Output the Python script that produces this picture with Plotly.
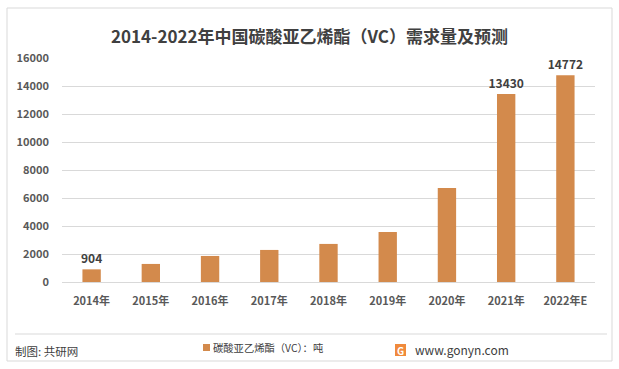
import plotly.graph_objects as go

categories = ["2014年", "2015年", "2016年", "2017年", "2018年", "2019年", "2020年", "2021年", "2022年E"]
demand = [904, 1290, 1860, 2290, 2720, 3570, 6710, 13430, 14772]
label_flags = [True, False, False, False, False, False, False, True, True]
series_name = "碳酸亚乙烯酯（VC）：吨"
y_ticks = [0, 2000, 4000, 6000, 8000, 10000, 12000, 14000, 16000]

FONT = "Noto Sans CJK SC, Microsoft YaHei, sans-serif"
BAR_COLOR = "#D38A4C"

W, H = 619, 369
ML, MR, MT, MB = 62, 24, 58, 87
PW = W - ML - MR
PH = H - MT - MB


def px(x):
    return (x - ML) / PW


def py(y):
    return (H - MB - y) / PH


fig = go.Figure()
fig.add_trace(go.Bar(
    x=categories,
    y=demand,
    name=series_name,
    marker=dict(color=BAR_COLOR, line=dict(width=0)),
    text=[str(v) if f else "" for v, f in zip(demand, label_flags)],
    textposition="outside",
    constraintext="none",
    textfont=dict(family=FONT, size=12, color="#404040", weight="bold"),
    cliponaxis=False,
    hoverinfo="x+y",
    showlegend=False,
))

fig.update_layout(
    width=W, height=H,
    margin=dict(l=ML, r=MR, t=MT, b=MB, autoexpand=False),
    paper_bgcolor="white",
    plot_bgcolor="white",
    font=dict(family=FONT, color="#595959"),
    bargap=0.69,
    title=dict(
        text="<b>2014-2022年中国碳酸亚乙烯酯（VC）需求量及预测</b>",
        x=0.5, xanchor="center", xref="container",
        y=1 - 37 / H, yanchor="middle", yref="container",
        font=dict(family=FONT, size=17, color="#404040"),
    ),
    xaxis=dict(
        showgrid=False, showline=False, ticks="",
        tickfont=dict(family=FONT, size=11, color="#595959", weight="bold"),
        ticklabelstandoff=11,
    ),
    yaxis=dict(
        range=[0, 16000], tickvals=y_ticks,
        ticktext=[str(v) for v in y_ticks],
        showgrid=True, gridcolor="#D9D9D9", gridwidth=1,
        zeroline=True, zerolinecolor="#D9D9D9", zerolinewidth=1,
        showline=False, ticks="",
        tickfont=dict(family=FONT, size=11, color="#595959", weight="bold"),
        ticklabelstandoff=12,
    ),
    showlegend=False,
)

# outer frame
fig.add_shape(type="rect", xref="paper", yref="paper",
              x0=px(7), x1=px(612), y0=py(361), y1=py(8),
              line=dict(color="#D9D9D9", width=1), layer="below")
# separator line above footer
fig.add_shape(type="line", xref="paper", yref="paper",
              x0=px(15), x1=px(607), y0=py(334), y1=py(334),
              line=dict(color="#D9D9D9", width=1))

# legend (custom)
fig.add_shape(type="rect", xref="paper", yref="paper",
              x0=px(203), x1=px(210), y0=py(351), y1=py(344),
              fillcolor=BAR_COLOR, line=dict(width=0))
fig.add_annotation(text=series_name, xref="paper", yref="paper",
                   x=px(211), y=py(347.5), xanchor="left", yanchor="middle",
                   showarrow=False,
                   font=dict(family=FONT, size=10.3, color="#404040"))

# footer left
fig.add_annotation(text="制图: 共研网", xref="paper", yref="paper",
                   x=px(13), y=py(350.5), xanchor="left", yanchor="middle",
                   showarrow=False,
                   font=dict(family=FONT, size=11.5, color="#404040"))
# logo icon
fig.add_shape(type="rect", xref="paper", yref="paper",
              x0=px(395), x1=px(406), y0=py(356), y1=py(344),
              fillcolor="#F08A3C", line=dict(width=0))
fig.add_annotation(text="<b>G</b>", xref="paper", yref="paper",
                   x=px(400.5), y=py(350), xanchor="center", yanchor="middle",
                   showarrow=False,
                   font=dict(family=FONT, size=10, color="white"))
# footer right
fig.add_annotation(text="www.gonyn.com", xref="paper", yref="paper",
                   x=px(413), y=py(349.5), xanchor="left", yanchor="middle",
                   showarrow=False,
                   font=dict(family=FONT, size=12, color="#404040"))

fig.write_html("out.html", config={"displayModeBar": False},
               post_script="document.body.style.margin='0';document.body.style.padding='0';")
